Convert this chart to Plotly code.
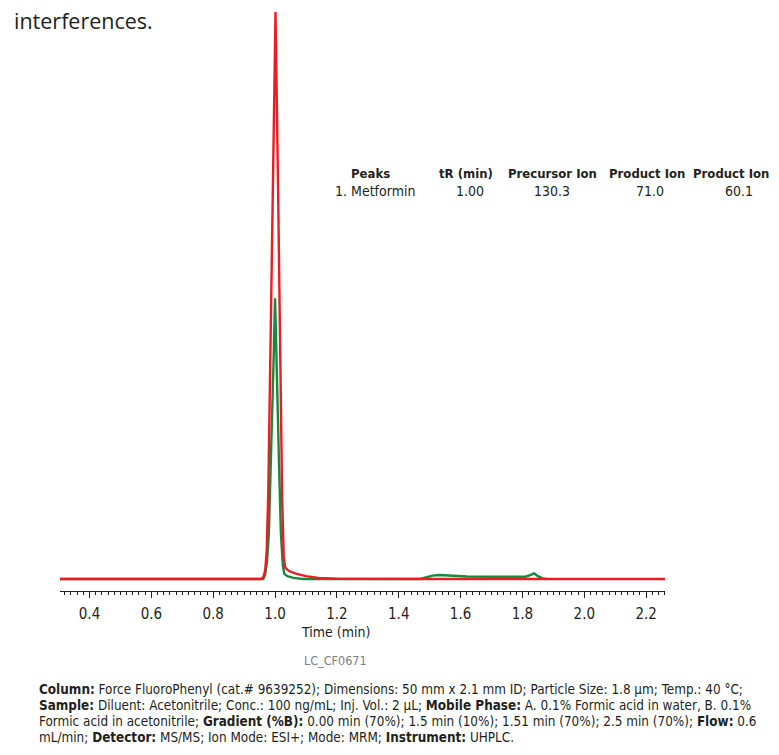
import plotly.graph_objects as go

# ---------------- data ----------------
# time (min) / relative intensity (% of tallest peak)
red_time = [0.300, 0.600, 0.900, 0.955, 0.962, 0.968, 0.973, 0.978, 0.985, 0.9935,
            1.0015, 1.0095, 1.017, 1.023, 1.028, 1.033, 1.045, 1.070, 1.100, 1.140,
            1.200, 1.300, 1.500, 1.700, 1.900, 2.100, 2.280]
red_int = [0.0, 0.0, 0.0, 0.0, 0.3, 1.5, 5.0, 15.0, 40.0, 70.0,
           100.0, 70.0, 38.0, 14.0, 4.0, 2.0, 1.4, 0.9, 0.5, 0.2,
           0.05, 0.0, 0.0, 0.0, 0.0, 0.0, 0.0]

green_time = [0.300, 0.600, 0.900, 0.962, 0.968, 0.974, 0.980, 0.988, 0.995, 1.000,
              1.006, 1.013, 1.019, 1.025, 1.030, 1.040, 1.060, 1.090, 1.300, 1.470,
              1.490, 1.510, 1.530, 1.550, 1.580, 1.620, 1.700, 1.780, 1.810, 1.825,
              1.838, 1.850, 1.865, 1.880]
green_int = [0.0, 0.0, 0.0, 0.0, 0.8, 3.0, 8.0, 22.0, 38.0, 49.5,
             38.0, 20.0, 8.0, 2.5, 0.9, 0.5, 0.2, 0.0, 0.0, 0.0,
             0.3, 0.6, 0.7, 0.65, 0.5, 0.45, 0.4, 0.35, 0.4, 0.7,
             1.0, 0.5, 0.1, 0.0]

x_ticks = [0.4, 0.6, 0.8, 1.0, 1.2, 1.4, 1.6, 1.8, 2.0, 2.2]
x_tick_labels = ["0.4", "0.6", "0.8", "1.0", "1.2", "1.4", "1.6", "1.8", "2.0", "2.2"]

table_headers = ["Peaks", "tR (min)", "Precursor Ion", "Product Ion", "Product Ion"]
table_row = ["1. Metformin", "1.00", "130.3", "71.0", "60.1"]

caption_lines = [
    "<b>Column:</b> Force FluoroPhenyl (cat.# 9639252); Dimensions: 50 mm x 2.1 mm ID; Particle Size: 1.8 µm; Temp.: 40 °C;",
    "<b>Sample:</b> Diluent: Acetonitrile; Conc.: 100 ng/mL; Inj. Vol.: 2 µL; <b>Mobile Phase:</b> A. 0.1% Formic acid in water, B. 0.1%",
    "Formic acid in acetonitrile; <b>Gradient (%B):</b> 0.00 min (70%); 1.5 min (10%); 1.51 min (70%); 2.5 min (70%); <b>Flow:</b> 0.6",
    "mL/min; <b>Detector:</b> MS/MS; Ion Mode: ESI+; Mode: MRM; <b>Instrument:</b> UHPLC.",
]

# ---------------- layout geometry (page pixels) ----------------
OFF = 8                          # body margin of the written html page
W, H = 779 - OFF, 755 - 2 * OFF  # figure size (no page scrolling)
PL, PR, PT, PB = 60, 665, 8, 591  # plot area on the page
COND = "DejaVu Sans Condensed, DejaVu Sans, sans-serif"
TXT = "#231f20"


def px(x):
    return (x - PL) / (PR - PL)


def py(y):
    return (PB - y) / (PB - PT)


fig = go.Figure()
fig.add_trace(go.Scatter(x=green_time, y=green_int, mode="lines",
                         line=dict(color="#17893f", width=2.4), hoverinfo="skip"))
fig.add_trace(go.Scatter(x=red_time, y=red_int, mode="lines",
                         line=dict(color="#ec1c24", width=2.4), hoverinfo="skip"))

ann = []


def add_text(x, y, text, anchor, family, size, color=TXT):
    ann.append(dict(x=px(x), y=py(y), xref="paper", yref="paper", text=text,
                    showarrow=False, xanchor=anchor, yanchor="middle",
                    font=dict(family=family, size=size, color=color)))


add_text(12, 20, "interferences.", "left", "Open Sans, Noto Sans, sans-serif", 21.5)

col_x = [349, 466, 552, 647, 731]
col_anchor = ["left", "center", "center", "center", "center"]
for i, h in enumerate(table_headers):
    add_text(col_x[i], 173, "<b>" + h + "</b>", col_anchor[i], COND, 13)
row_x = [333, 470, 552, 650, 739]
for i, v in enumerate(table_row):
    add_text(row_x[i], 191, v, col_anchor[i], COND, 14)

add_text(335, 632, "Time (min)", "center", COND, 14)
add_text(335, 660, "LC_CF0671", "center", COND, 12.5, "#808080")

cap_y = [689, 705, 721, 737]
for line, yy in zip(caption_lines, cap_y):
    add_text(37, yy, line, "left", COND, 13.4)

fig.update_layout(
    width=W, height=H, autosize=False,
    margin=dict(l=PL - OFF, r=W - (PR - OFF), t=PT - OFF, b=H - (PB - OFF), pad=0),
    paper_bgcolor="white", plot_bgcolor="white",
    showlegend=False,
    annotations=ann,
    xaxis=dict(range=[0.3046, 2.261], showgrid=False, zeroline=False,
               showline=True, linecolor="#231f20", linewidth=1,
               tickmode="array", tickvals=x_ticks, ticktext=x_tick_labels,
               ticks="outside", ticklen=6, tickwidth=1, tickcolor="#231f20",
               ticklabelstandoff=3,
               minor=dict(dtick=0.02, tick0=0, ticks="outside", ticklen=3,
                          tickwidth=1, tickcolor="#231f20", showgrid=False),
               tickfont=dict(family=COND, size=15, color=TXT), fixedrange=True),
    yaxis=dict(range=[-2.12, 100.7], visible=False, fixedrange=True),
)

fig.write_html("out.html")
